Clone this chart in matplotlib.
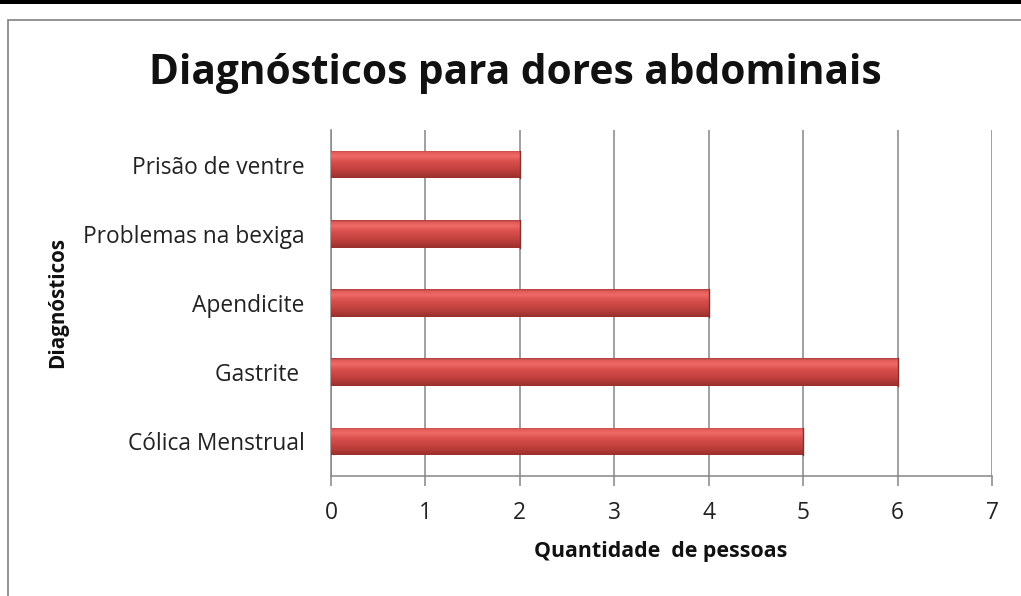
import matplotlib
matplotlib.use("Agg")
import matplotlib.pyplot as plt
import matplotlib.patches as mpatches
from matplotlib.colors import LinearSegmentedColormap
import numpy as np

categories = ["Cólica Menstrual", "Gastrite ", "Apendicite", "Problemas na bexiga", "Prisão de ventre"]
values = [5, 6, 4, 2, 2]
xticks = [0, 1, 2, 3, 4, 5, 6, 7]

title = "Diagnósticos para dores abdominais"
xlabel = "Quantidade  de pessoas"
ylabel = "Diagnósticos"

W, H = 1021, 596
fig = plt.figure(figsize=(W / 100, H / 100), dpi=100)
fig.patch.set_facecolor("white")

# top black bar and chart border
fig.add_artist(mpatches.Rectangle((0, 1 - 4 / H), 1, 4 / H, transform=fig.transFigure,
                                  facecolor="black", edgecolor="none"))
fig.add_artist(mpatches.Rectangle((7.5 / W, -0.05), 1.1, 1 - 20.5 / H + 0.05, transform=fig.transFigure,
                                  facecolor="none", edgecolor="#8a8a8a", linewidth=1.3))

ax = fig.add_axes([331 / W, 1 - 476 / H, (992 - 331) / W, (476 - 130) / H])

cmap = LinearSegmentedColormap.from_list("bar", [
    (0.0, "#9a302d"), (0.3, "#c0413e"), (0.6, "#d9504d"), (0.8, "#ef6a67"),
    (0.93, "#e25a57"), (1.0, "#a94140")])
grad = np.linspace(0, 1, 64).reshape(-1, 1)

bh = 0.40
ypos = np.arange(len(categories))
bars = ax.barh(ypos, values, height=bh, color="#c0504d", edgecolor="none", zorder=3)
for b in bars:
    x0, y0, w, h = b.get_x(), b.get_y(), b.get_width(), b.get_height()
    im = ax.imshow(grad, extent=[x0, x0 + w, y0, y0 + h], origin="lower", cmap=cmap,
                   aspect="auto", zorder=4, interpolation="bilinear")
    im.set_clip_path(b)
    ax.plot([x0 + w, x0 + w], [y0, y0 + h], color="#8f2a27", lw=1.0, zorder=5)
ax.set_aspect("auto")
ax.set_xlim(0, 7)
ax.set_ylim(-0.5, len(categories) - 0.5)

ax.set_xticks(xticks)
ax.set_xticklabels([str(t) for t in xticks])
ax.set_yticks(ypos)
ax.set_yticklabels(categories)

ax.grid(axis="x", color="#868686", linewidth=1.1, zorder=0)
ax.set_axisbelow(True)
for s in ["top", "right"]:
    ax.spines[s].set_visible(False)
for s in ["left", "bottom"]:
    ax.spines[s].set_color("#868686")
    ax.spines[s].set_linewidth(1.1)

font = ["Open Sans", "DejaVu Sans"]
ax.tick_params(axis="x", length=7, color="#868686", width=1.1, pad=11, labelsize=14, labelcolor="#222222")
ax.tick_params(axis="y", length=0, pad=19, labelsize=14, labelcolor="#222222")
for lab in ax.get_xticklabels() + ax.get_yticklabels():
    lab.set_fontfamily(font)

xl = fig.text(661 / W, 1 - 551 / H, xlabel, ha="center", va="center",
              fontsize=13, fontweight="bold", family=font, color="#111111")
yl = fig.text(58 / W, 1 - 302 / H, ylabel, rotation=90, ha="center", va="center",
              fontsize=12, fontweight="bold", family=font, color="#111111")
tt = fig.text(515 / W, 1 - 74 / H, title, ha="center", va="center",
              fontsize=29, fontweight="bold", family=font, color="#111111")

# fit text sizes to the reference widths (pixels)
fig.canvas.draw()
r = fig.canvas.get_renderer()
def fit(t, target, horizontal=True):
    bb = t.get_window_extent(r)
    cur = bb.width if horizontal else bb.height
    t.set_fontsize(t.get_fontsize() * target / cur)
fit(tt, 730)
fit(xl, 251)
fit(yl, 131, horizontal=False)
ylabs = ax.get_yticklabels()
bb = ylabs[3].get_window_extent(r)
ys = 14 * 223 / bb.width
for lab in ylabs:
    lab.set_fontsize(ys)
for lab in ax.get_xticklabels():
    lab.set_fontsize(ys)

fig.savefig("out.png", dpi=100)
